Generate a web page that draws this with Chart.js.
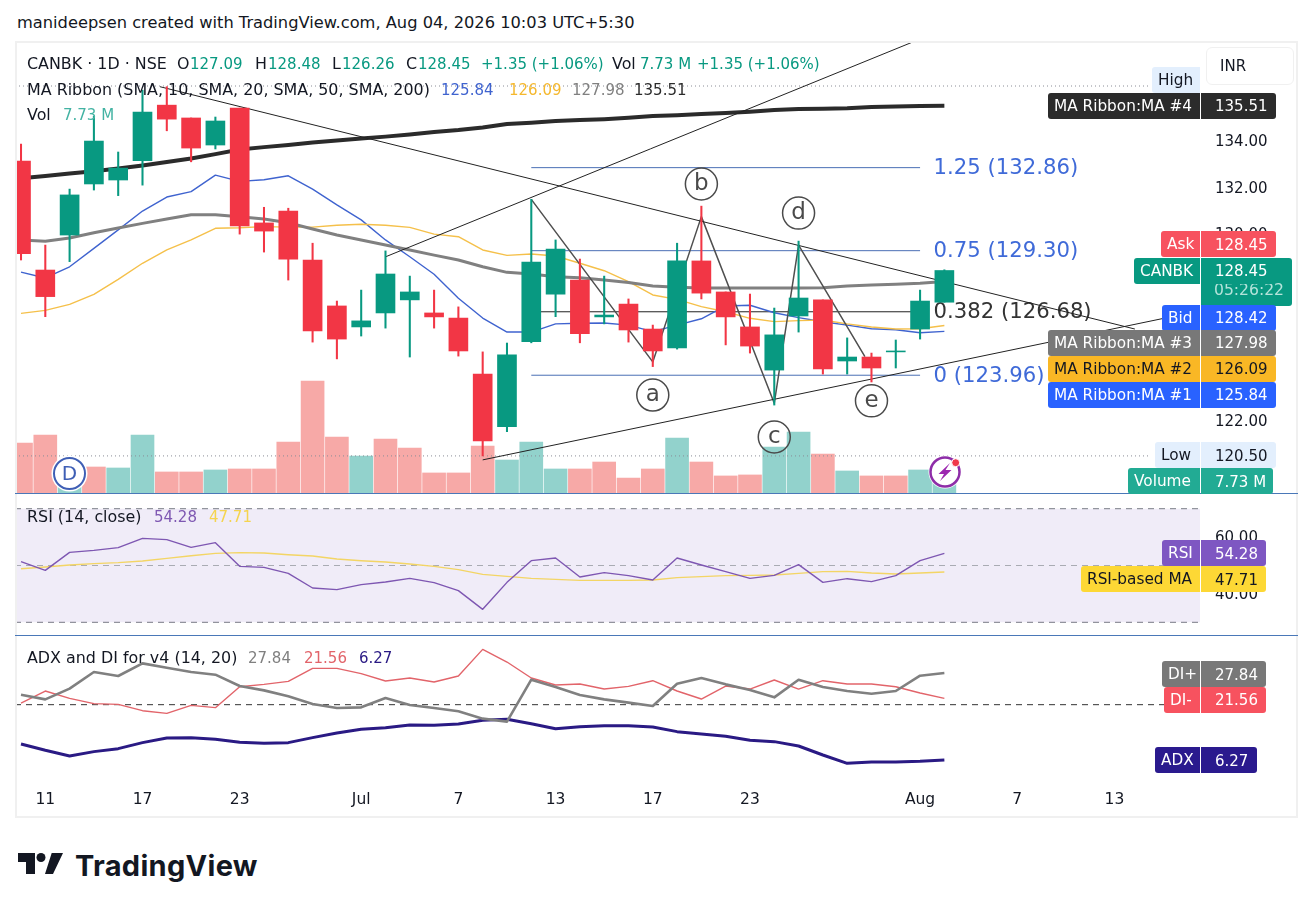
<!DOCTYPE html>
<html>
<head>
<meta charset="utf-8">
<title>CANBK</title>
<script src="https://cdn.jsdelivr.net/npm/chart.js@4"></script>
<style>
  html, body { margin: 0; background: #fff; }
  #page { position: relative; width: 1314px; height: 910px; overflow: hidden; font-family: "DejaVu Sans", sans-serif; color: #131722; }
  #page canvas { position: absolute; left: 15px; }
  .t { position: absolute; white-space: nowrap; transform: translateY(-50%); line-height: 1; }
  .box { position: absolute; box-sizing: border-box; }
</style>
</head>
<body>
<div id="page">
  <canvas id="mainPane" width="1283" height="452" style="top:41px"></canvas>
  <canvas id="rsiPane" width="1283" height="140" style="top:494px"></canvas>
  <canvas id="adxPane" width="1283" height="182" style="top:636px"></canvas>
</div>
<script>
// bar slots, 0 is the bar under the "11" tick
const sessions = [-1,0,1,2,3,4,5,6,7,8,9,10,11,12,13,14,15,16,17,18,19,20,21,22,23,24,25,26,27,28,29,30,31,32,33,34,35,36,37];
const opens = [133.14,128.47,129.97,132.16,132.33,133.16,135.54,134.99,133.83,135.41,130.49,131.00,128.90,126.93,126.03,126.63,127.19,126.63,126.41,124.01,121.75,125.40,127.44,128.04,126.46,127.01,125.94,125.13,128.86,127.53,126.03,124.18,126.50,127.19,124.57,124.74,124.96,125.94,127.09];
const highs = [133.87,129.54,131.94,135.07,133.53,136.18,136.33,134.99,135.03,135.41,131.16,131.12,129.62,127.14,127.61,129.29,128.21,127.61,126.89,124.96,125.34,131.50,129.76,128.94,128.21,127.23,126.11,129.62,131.21,127.53,127.44,126.84,129.71,127.19,125.56,124.91,125.47,127.61,128.48];
const lows = [128.90,126.47,128.83,131.90,131.66,132.11,134.44,133.11,133.66,130.01,129.24,128.04,125.38,124.66,125.64,125.98,124.74,125.98,124.78,120.50,121.54,125.35,126.47,125.35,126.16,125.38,124.33,125.08,127.23,125.26,124.91,122.68,125.81,124.01,124.01,123.67,124.27,125.51,127.09];
const closes = [129.17,127.33,131.69,134.00,132.84,135.24,134.94,133.70,134.86,130.36,130.14,128.94,125.86,125.51,126.29,128.30,127.53,126.46,125.00,121.14,124.83,128.81,129.37,125.74,126.54,125.90,125.00,128.86,127.48,126.46,125.21,125.69,127.27,124.23,124.74,124.27,125.00,127.14,128.45];
// volume in millions, and whether the bar is the up (1) or down (0) colour
const volumes = [35.2,40.8,4.2,18.3,17.6,40.8,14.8,14.8,16.2,16.9,16.9,35.9,78.7,39.4,26.0,38.0,31.6,14.1,14.1,33.0,23.2,35.9,16.9,16.9,21.8,10.5,16.9,38.7,21.8,12.0,12.7,32.3,42.9,27.4,15.5,12.0,12.0,16.2,7.73];
const volumeUp = [0,0,1,0,1,1,0,0,1,0,0,0,0,0,1,0,0,0,0,0,1,1,1,0,0,0,0,1,0,0,0,1,1,0,1,0,0,1,1];

const ma10 = [128.38,128.13,128.61,129.40,130.19,131.00,131.60,131.83,132.54,132.27,132.34,132.51,131.94,131.26,130.62,129.76,129.04,128.29,127.26,126.41,125.81,125.81,126.16,126.19,126.20,126.11,125.83,126.11,126.38,126.93,126.96,126.64,126.43,126.25,126.11,125.95,125.91,125.78,125.84];
const ma20 = [126.61,126.74,127.00,127.43,128.07,128.76,129.33,129.76,130.26,130.28,130.33,130.31,130.31,130.39,130.43,130.39,130.30,130.01,129.90,129.33,129.10,129.16,129.07,128.76,128.44,127.97,127.40,127.21,126.90,126.68,126.40,126.26,126.30,126.33,126.16,126.03,125.94,125.95,126.09];
const ma50 = [129.76,129.70,129.84,130.07,130.27,130.47,130.66,130.84,130.84,130.75,130.66,130.50,130.23,129.97,129.76,129.54,129.33,129.11,128.90,128.61,128.37,128.30,128.18,128.14,128.04,127.94,127.79,127.73,127.70,127.70,127.70,127.70,127.70,127.71,127.79,127.83,127.86,127.90,127.98];
const ma200 = [132.41,132.50,132.61,132.71,132.82,132.95,133.10,133.25,133.44,133.64,133.74,133.83,133.94,134.02,134.11,134.19,134.28,134.39,134.47,134.58,134.73,134.79,134.86,134.90,134.94,135.00,135.07,135.11,135.16,135.20,135.26,135.33,135.37,135.39,135.41,135.46,135.48,135.50,135.51];

const rsi = [51.35,48.30,54.64,55.34,56.28,59.57,59.10,56.40,58.04,49.71,49.35,47.24,42.08,41.50,43.25,44.19,45.48,43.96,41.14,34.57,44.07,51.70,52.64,45.95,47.48,46.42,44.90,52.64,50.18,47.83,45.48,46.54,50.29,44.07,45.36,44.31,46.42,51.70,54.28];
const rsiMa = [48.88,49.47,50.18,50.65,51.00,51.58,52.52,53.46,54.28,54.52,54.40,53.81,53.35,52.29,51.70,51.23,50.53,49.71,48.53,46.89,46.19,45.48,45.13,44.78,44.78,44.78,44.90,45.72,46.07,46.42,46.54,46.65,47.24,47.83,47.95,47.36,47.00,47.36,47.71];
const rsiLevels = [70, 50, 30];

const diPlus = [22.48,21.32,23.97,28.10,27.11,30.25,29.17,28.10,27.44,24.63,23.55,22.07,20.17,19.17,19.34,21.65,19.92,19.17,18.35,16.53,15.79,26.20,24.38,22.40,21.32,20.50,19.67,25.21,26.61,25.04,23.64,21.82,26.20,24.38,23.39,22.73,23.39,27.19,27.84];
const diMinus = [20.41,23.39,21.57,20.25,20.08,18.51,17.85,19.83,19.26,24.46,25.04,25.79,29.00,29.00,27.69,25.87,26.61,25.62,27.11,33.72,30.58,26.61,24.88,25.12,23.88,24.55,25.95,23.39,21.40,24.63,23.88,26.12,23.88,25.95,25.12,25.12,24.46,22.89,21.56];
const adx = [10.25,8.68,7.27,8.35,9.09,10.58,11.74,11.82,11.40,10.66,10.41,10.58,11.82,12.98,13.88,14.30,14.96,14.88,15.21,16.12,16.36,15.29,14.05,14.55,14.79,14.79,14.46,13.31,12.73,12.15,11.16,10.83,9.75,7.52,5.45,5.79,5.79,5.95,6.27];
const adxLevel = 20;

const xTickSlots = [0,4,8,13,17,21,25,29,36,40,44];
const xTickLabels = ['11','17','23','Jul','7','13','17','23','Aug','7','13'];
const priceTicks = [134,132,130,122];
const rsiTicks = [60,40];

// drawings on the price pane, [slot, price]
const downTrend = [[4.72,136.33],[44.84,125.94]];
const upperRay = [[14.01,129.04],[35.8,138.29]];
const lowerTrend = [[18,120.33],[46.08,126.41]];
const wavePath = [[20,131.50],[25,124.53],[27,130.76],[30,122.76],[31,129.54],[33.73,124.76]];
const waveLetters = ['a','b','c','d','e'];
const waveLabelAt = [[25,123.11],[27,132.16],[30,121.31],[31,130.91],[34,122.86]];
const fibLevels = [132.86,129.30,126.68,123.96];
const fibNames = ['1.25 (132.86)','0.75 (129.30)','0.382 (126.68)','0 (123.96)'];
const fibSpan = [20,36];
const highPrice = 136.36, lowPrice = 120.50;

const UP = '#089981', DOWN = '#f23645';
const FONT = '"DejaVu Sans", sans-serif';
const xMin = -1.247, xMax = 47.52;

function points(values) { return values.map((v, i) => ({ x: sessions[i], y: v })); }
function pairs(list) { return list.map(p => ({ x: p[0], y: p[1] })); }
function flat(y, from, to) { return [{ x: from, y: y }, { x: to, y: y }]; }

function lineSet(data, color, width, extra) {
  return Object.assign({ type: 'line', data: data, borderColor: color, borderWidth: width, pointRadius: 0, tension: 0, fill: false, order: 5, borderJoinStyle: 'round' }, extra || {});
}

function xAxis(show) {
  return {
    type: 'linear', min: xMin, max: xMax, offset: false, display: show,
    grid: { display: false, drawTicks: false }, border: { display: false },
    afterBuildTicks(s) { s.ticks = xTickSlots.map(v => ({ value: v })); },
    afterFit(s) { s.paddingLeft = 0; s.paddingRight = 0; if (show) s.height = 33; },
    ticks: { autoSkip: false, maxRotation: 0, padding: 6, color: '#131722', font: { family: FONT, size: 15.5 }, callback: (v, i) => xTickLabels[i] }
  };
}

function yAxis(min, max, ticks) {
  return {
    type: 'linear', position: 'right', min: min, max: max,
    grid: { display: false, drawTicks: false }, border: { display: false },
    afterBuildTicks(s) { s.ticks = ticks.map(v => ({ value: v })); },
    afterFit(s) { s.paddingTop = 0; s.paddingBottom = 0; s.width = 98; },
    ticks: { padding: 15, labelOffset: 1, color: '#131722', font: { family: FONT, size: 15 }, callback: v => v.toFixed(2) }
  };
}

const baseOptions = {
  responsive: false, animation: false, events: [],
  layout: { padding: 0 },
  plugins: { legend: { display: false }, tooltip: { enabled: false } }
};

// fib level captions sit under the trend lines
const fibCaptions = {
  id: 'fibCaptions',
  beforeDatasetsDraw(chart) {
    const ctx = chart.ctx, y = chart.scales.y, x = chart.scales.x;
    ctx.save();
    ctx.font = '21.2px ' + FONT;
    ctx.textBaseline = 'middle';
    fibLevels.forEach((lvl, i) => {
      ctx.fillStyle = i === 2 ? '#333333' : '#3f6ad8';
      ctx.fillText(fibNames[i], x.getPixelForValue(fibSpan[1]) + 13.5, y.getPixelForValue(lvl) + 1);
    });
    ctx.restore();
  }
};

const waveCircles = {
  id: 'waveCircles',
  afterDatasetsDraw(chart) {
    const ctx = chart.ctx, y = chart.scales.y, x = chart.scales.x;
    ctx.save();
    ctx.strokeStyle = '#4a4a4a';
    ctx.fillStyle = '#4a4a4a';
    ctx.lineWidth = 1.5;
    ctx.font = '23px ' + FONT;
    ctx.textAlign = 'center';
    ctx.textBaseline = 'middle';
    waveLetters.forEach((w, i) => {
      const px = x.getPixelForValue(waveLabelAt[i][0]), py = y.getPixelForValue(waveLabelAt[i][1]);
      ctx.beginPath();
      ctx.arc(px, py, 16, 0, Math.PI * 2);
      ctx.stroke();
      ctx.fillText(w, px, py);
    });
    ctx.restore();
  }
};

const fibSets = fibLevels.map((lvl, i) => lineSet(flat(lvl, fibSpan[0], fibSpan[1]), i === 2 ? '#222222' : '#4a6fb5', 1, { order: 6 }));

new Chart(document.getElementById('mainPane'), {
  type: 'bar',
  data: {
    datasets: [
      { yAxisID: 'vol', data: points(volumes), backgroundColor: volumeUp.map(u => u ? '#92d2cc' : '#f7a9a7'), barThickness: 23, order: 10 },
      lineSet(flat(highPrice, xMin, 45.5), '#8a8d96', 1, { borderDash: [1, 3], order: 9 }),
      lineSet(flat(lowPrice, xMin, 45.5), '#8a8d96', 1, { borderDash: [1, 3], order: 9 }),
      lineSet(points(ma200), '#2b2b2b', 4),
      lineSet(points(ma50), '#808080', 3),
      lineSet(points(ma20), '#f5c04a', 1.4),
      lineSet(points(ma10), '#3f63cf', 1.4),
      ...fibSets,
      lineSet(pairs(downTrend), '#222222', 1, { order: 4 }),
      lineSet(pairs(upperRay), '#222222', 1, { order: 4 }),
      lineSet(pairs(lowerTrend), '#222222', 1, { order: 4 }),
      lineSet(pairs(wavePath), '#4f4f4f', 1.5, { order: 4 }),
      { data: sessions.map((s, i) => ({ x: s, y: [lows[i], highs[i]] })), backgroundColor: closes.map((c, i) => c >= opens[i] ? UP : DOWN), barThickness: 1.4, order: 2 },
      { data: sessions.map((s, i) => ({ x: s, y: [opens[i], closes[i]] })), backgroundColor: closes.map((c, i) => c >= opens[i] ? UP : DOWN), barThickness: 19, order: 1 }
    ]
  },
  options: Object.assign({}, baseOptions, {
    datasets: { bar: { grouped: false, borderWidth: 0 } },
    scales: {
      x: xAxis(false),
      y: yAxis(118.91, 138.29, priceTicks),
      vol: { type: 'linear', display: false, min: 0, max: 318 }
    }
  }),
  plugins: [fibCaptions, waveCircles]
});

new Chart(document.getElementById('rsiPane'), {
  type: 'line',
  data: {
    datasets: [
      lineSet(flat(rsiLevels[0], xMin, xMax), '#787b86', 1, { borderDash: [6, 5], fill: { value: rsiLevels[2] }, backgroundColor: '#f0ecf8', order: 9 }),
      lineSet(flat(rsiLevels[1], xMin, xMax), '#a9abb3', 1, { borderDash: [6, 5], order: 8 }),
      lineSet(flat(rsiLevels[2], xMin, xMax), '#787b86', 1, { borderDash: [6, 5], order: 8 }),
      lineSet(points(rsiMa), '#f3d565', 1.4),
      lineSet(points(rsi), '#7e57b2', 1.4, { order: 4 })
    ]
  },
  options: Object.assign({}, baseOptions, { scales: { x: xAxis(false), y: yAxis(25.88, 75.18, rsiTicks) } })
});

new Chart(document.getElementById('adxPane'), {
  type: 'line',
  data: {
    datasets: [
      lineSet(flat(adxLevel, xMin, xMax), '#333333', 1, { borderDash: [6, 5], order: 9 }),
      lineSet(points(adx), '#2a1a84', 3, { order: 6 }),
      lineSet(points(diMinus), '#e2646a', 1.4),
      lineSet(points(diPlus), '#808080', 2.6, { order: 4 })
    ]
  },
  options: Object.assign({}, baseOptions, { scales: { x: xAxis(true), y: Object.assign(yAxis(0.07, 37.04, []), { display: false }) } })
});

// --- html overlay: header, legends, price tags ---
const page = document.getElementById('page');
const LABEL = 15.9;

function put(text, x, cy, color, size, extra) {
  const d = document.createElement('div');
  d.className = 't';
  d.textContent = text;
  d.style.cssText = 'left:' + x + 'px;top:' + cy + 'px;color:' + color + ';font-size:' + (size || 15) + 'px;' + (extra || '');
  page.appendChild(d);
  return d;
}
function rect(x, y, w, h, css) {
  const d = document.createElement('div');
  d.className = 'box';
  d.style.cssText = 'left:' + x + 'px;top:' + y + 'px;width:' + w + 'px;height:' + h + 'px;' + css;
  page.appendChild(d);
  return d;
}

rect(15, 41, 1283, 777, 'border:2px solid #f0f0f0;border-bottom-width:2px;');
rect(15, 493, 1283, 1, 'background:#4a78b8;');
rect(15, 634.5, 1283, 1, 'background:#4a78b8;');

put('manideepsen created with TradingView.com, Aug 04, 2026 10:03 UTC+5:30', 17, 23, '#131722', 16.25);

const legendTop = [
  ['CANBK · 1D · NSE', 27, '#131722', LABEL], ['O', 177, '#131722', LABEL], ['127.09', 190, UP], ['H', 255, '#131722', LABEL], ['128.48', 268, UP],
  ['L', 332, '#131722', LABEL], ['126.26', 342, UP], ['C', 406, '#131722', LABEL], ['128.45', 418, UP], ['+1.35 (+1.06%)', 481, UP],
  ['Vol', 612, '#131722', LABEL], ['7.73 M', 640, UP], ['+1.35 (+1.06%)', 697, UP]
];
legendTop.forEach(l => put(l[0], l[1], 64, l[2], l[3]));
[['MA Ribbon (SMA, 10, SMA, 20, SMA, 50, SMA, 200)', 27, '#131722', LABEL], ['125.84', 441, '#3f63cf'], ['126.09', 509, '#f5b82e'], ['127.98', 572, '#808080'], ['135.51', 634, '#2b2b2b']]
  .forEach(l => put(l[0], l[1], 89.5, l[2], l[3]));
put('Vol', 27, 115, '#131722', LABEL);
put('7.73 M', 63, 115, '#43b3a3');
put('RSI (14, close)', 27, 517, '#131722', LABEL);
put('54.28', 154, 517, '#7e57b2');
put('47.71', 209, 517, '#f5d44f');
put('ADX and DI for v4 (14, 20)', 27, 658, '#131722', LABEL);
put('27.84', 248, 658, '#808080');
put('21.56', 304, 658, '#e2646a');
put('6.27', 359, 658, '#2a1a84');

// label left edge, centre y, name, value, value box width, fill, text colour
const tags = [
  [1152, 80, 'High', null, 0, '#e3effd', '#131722'],
  [1048, 105.5, 'MA Ribbon:MA #4', '135.51', 75, '#2b2b2b', '#ffffff'],
  [1161, 244, 'Ask', '128.45', 75, '#f7525f', '#ffffff'],
  [1134, 270.5, 'CANBK', '128.45', 75, UP, '#ffffff'],
  [1162, 317.5, 'Bid', '128.42', 75, '#2962ff', '#ffffff'],
  [1048, 342.5, 'MA Ribbon:MA #3', '127.98', 75, '#787878', '#ffffff'],
  [1048, 368.5, 'MA Ribbon:MA #2', '126.09', 75, '#f9b725', '#131722'],
  [1048, 394.5, 'MA Ribbon:MA #1', '125.84', 75, '#2962ff', '#ffffff'],
  [1155, 455, 'Low', '120.50', 75, '#e3effd', '#131722'],
  [1128, 481, 'Volume', '7.73 M', 72, '#22ab94', '#ffffff'],
  [1162, 553, 'RSI', '54.28', 65.5, '#7e57c2', '#ffffff'],
  [1081, 579.3, 'RSI-based MA', '47.71', 65.5, '#fdd835', '#131722'],
  [1162, 674, 'DI+', '27.84', 65.5, '#787878', '#ffffff'],
  [1164, 699.5, 'DI-', '21.56', 65.5, '#f7525f', '#ffffff'],
  [1155, 760.3, 'ADX', '6.27', 56.5, '#2a1a8e', '#ffffff']
];
rect(1206, 47, 88, 38, 'background:#fff;border:1.5px solid #f0f0f0;border-radius:6px;');
put('INR', 1220, 66, '#131722');
rect(1200.5, 257.5, 91.5, 48, 'background:' + UP + ';border-radius:0 3px 3px 0;');
put('05:26:22', 1214, 291, '#b5e3da', 15.6);
tags.forEach(t => {
  const top = t[1] - 13;
  rect(t[0], top, 1200 - t[0], 26, 'background:' + t[5] + ';border-radius:3px 0 0 3px;');
  put(t[2], t[0] + 6, t[1] + 1, t[6], 15.3);
  if (t[3]) {
    rect(1200.5, top, t[4], 26, 'background:' + t[5] + ';border-radius:0 3px 3px 0;');
    put(t[3], 1215, t[1] + 0.5, t[6]);
  }
});

// dividends marker and the lightning badge
rect(53, 456.5, 33, 33, 'background:#fff;border:2.5px solid #3f5fb5;border-radius:50%;box-shadow:0 0 0 1.5px #fff;');
put('D', 69.5, 473.3, '#3f5fb5', 20, 'transform:translate(-50%,-50%);');
page.insertAdjacentHTML('beforeend',
  '<svg style="position:absolute;left:927px;top:454px" width="36" height="36" viewBox="0 0 36 36">' +
  '<circle cx="18" cy="18" r="16.5" fill="#fff"/>' +
  '<circle cx="18" cy="18" r="14.5" fill="#fff" stroke="#8e2da8" stroke-width="2.5"/>' +
  '<path d="M23 9 L11.5 20 H17 L13 27 L24.5 16 H18.5 Z" fill="#9c27b0"/>' +
  '<circle cx="28.7" cy="8.7" r="4" fill="#f0384a" stroke="#fff" stroke-width="1"/></svg>');

// logo
page.insertAdjacentHTML('beforeend',
  '<svg style="position:absolute;left:18px;top:853px" width="46" height="22" viewBox="0 0 46 22">' +
  '<path fill="#131722" d="M0 0H17V21H8V9H0ZM33.7 0H45L35 21H27Z"/><circle cx="23" cy="4.5" r="4.5" fill="#131722"/></svg>');
put('TradingView', 75, 864.5, '#131722', 29, 'font-family:Inter,sans-serif;font-weight:700;letter-spacing:0.3px;');
</script>
</body>
</html>
